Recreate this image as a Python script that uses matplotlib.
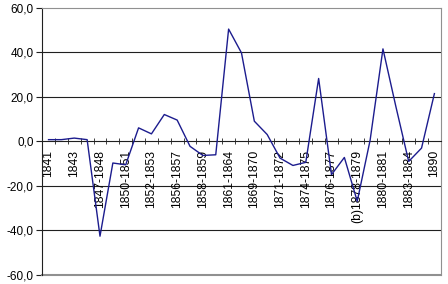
import numpy as np
import matplotlib
matplotlib.use("Agg")
import matplotlib.pyplot as plt
from matplotlib.ticker import FuncFormatter, MultipleLocator

# valeurs (31 periodes)
values = [0.8, 0.8, 1.5, 0.8, -42.6, -9.7, -10.5, 6.1, 3.4, 12.1,
          9.6, -2.2, -6.3, -6.0, 50.5, 39.8, 9.1, 3.1, -7.5, -10.8,
          -9.4, 28.3, -14.9, -7.2, -26.9, 0.5, 41.6, 15.8, -9.0, -3.0,
          21.5]
tick_labels = ["1841", "1843", "1847-1848", "1850-1851", "1852-1853",
               "1856-1857", "1858-1859", "1861-1864", "1869-1870",
               "1871-1872", "1874-1875", "1876-1877", "(b)1878-1879",
               "1880-1881", "1883-1884", "1890"]

plt.rcParams['font.family'] = ['Liberation Sans', 'DejaVu Sans']

fig = plt.figure(figsize=(4.48, 2.84), dpi=100)
ax = fig.add_axes([0.094, 0.032, 0.89, 0.94])

x = np.arange(len(values))
ax.plot(x, values, color="#1c1c8e", lw=1.0, zorder=3)

ax.set_xlim(-0.5, len(values) - 0.5)
ax.set_ylim(-60, 60)

# grille horizontale
for g in [-40, -20, 20, 40]:
    ax.axhline(g, color="#202020", lw=0.8, zorder=1)

# cadre gris
for s in ["top", "right"]:
    ax.spines[s].set_color("#909090")
ax.axhline(-60, color="#909090", lw=1.5, clip_on=False, zorder=2)
ax.spines["left"].set_color("#202020")
ax.spines["bottom"].set_position(("data", 0))
ax.spines["bottom"].set_color("#202020")

ax.yaxis.set_major_locator(MultipleLocator(20))
ax.yaxis.set_major_formatter(FuncFormatter(lambda v, p: f"{v:.1f}".replace(".", ",")))
ax.tick_params(axis="y", labelsize=8.5, length=4, color="#202020", pad=2)

ax.set_xticks(x[::2])
ax.set_xticklabels(tick_labels, rotation=90, fontsize=8.7, va="top")
ax.set_xticks(np.arange(len(values) + 1) - 0.5, minor=True)
ax.tick_params(axis="x", which="major", length=0, pad=6)
ax.tick_params(axis="x", which="minor", length=4, color="#202020", direction="inout")

fig.savefig("out.png", dpi=100)
